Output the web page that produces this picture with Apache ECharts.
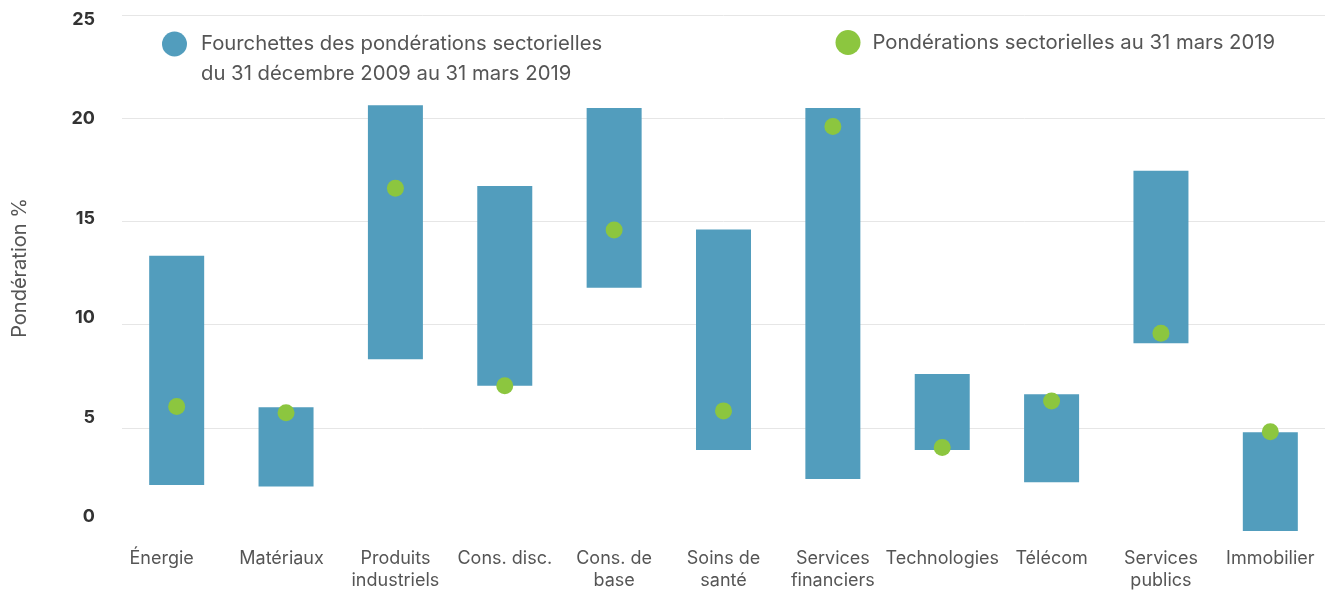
<!DOCTYPE html>
<html>
<head>
<meta charset="utf-8">
<script src="https://cdn.jsdelivr.net/npm/echarts@6/dist/echarts.min.js"></script>
<style>html,body{margin:0;padding:0;background:#fff;}#c{width:1325px;height:593px;}</style>
</head>
<body>
<div id="c"></div>
<script>
const categories = ['Énergie','Matériaux','Produits\nindustriels','Cons. disc.','Cons. de\nbase','Soins de\nsanté','Services\nfinanciers','Technologies','Télécom','Services\npublics','Immobilier'];
const rangeLow  = [2.23, 2.15, 8.32, 7.04, 11.79, 3.93, 2.52, 3.93, 2.36, 9.10, 0.0];
const rangeHigh = [13.33, 6.00, 20.63, 16.72, 20.49, 14.61, 20.49, 7.61, 6.63, 17.45, 4.78];
const current   = [6.03, 5.73, 16.61, 7.04, 14.58, 5.82, 19.60, 4.04, 6.30, 9.58, 4.81];
const yTicks = [0, 5, 10, 15, 20, 25];
const rangeName = 'Fourchettes des pondérations sectorielles\ndu 31 décembre 2009 au 31 mars 2019';
const currentName = 'Pondérations sectorielles au 31 mars 2019';

const FONT = 'Inter';
// small left shifts of the first two category labels, as in the reference
const labelPadRight = { 0: 30, 1: 9 };
const chart = echarts.init(document.getElementById('c'));
chart.setOption({
  animation: false,
  textStyle: { fontFamily: FONT },
  grid: { left: 122, right: 0, top: 15, bottom: 62 },
  legend: [
    { data: [rangeName], left: 162, top: -1, padding: 0, icon: 'circle', itemWidth: 25, itemHeight: 25,
      formatter: n => '\n' + n,
      textStyle: { fontFamily: FONT, fontSize: 20.3, color: '#555', lineHeight: 30, padding: [0, 0, 0, 9] } },
    { data: [currentName], left: 835.5, top: 30, padding: 0, icon: 'circle', itemWidth: 25, itemHeight: 25,
      textStyle: { fontFamily: FONT, fontSize: 20.3, color: '#555', padding: [0, 0, 0, 7] } }
  ],
  xAxis: {
    type: 'category',
    data: categories.map((c, i) => labelPadRight[i] ? { value: c, textStyle: { padding: [0, labelPadRight[i], 0, 0] } } : c),
    axisLine: { show: false }, axisTick: { show: false },
    axisLabel: { interval: 0, color: '#555', fontSize: 18, lineHeight: 22, margin: 17, fontFamily: FONT }
  },
  yAxis: [
    { type: 'value', min: 0, max: 25, interval: 5, position: 'left',
      name: 'Pondération %', nameLocation: 'middle', nameGap: 92,
      nameTextStyle: { color: '#555', fontSize: 20, fontFamily: FONT, padding: [0, 0, 0, 10] },
      axisLine: { show: false }, axisTick: { show: false }, axisLabel: { show: false },
      splitLine: { showMinLine: false, lineStyle: { color: '#e6e6e6', width: 1 } } },
    { type: 'value', min: -0.73, max: 25.23, position: 'left',
      axisLine: { show: false }, axisTick: { show: false }, splitLine: { show: false },
      axisLabel: { customValues: yTicks, color: '#333', fontSize: 18, fontWeight: 'bold', margin: 27, fontFamily: FONT } }
  ],
  series: [
    { type: 'bar', stack: 'r', data: rangeLow, barWidth: 55, silent: true,
      itemStyle: { color: 'transparent' } },
    { type: 'bar', stack: 'r', name: rangeName, data: rangeHigh.map((h, i) => h - rangeLow[i]),
      barWidth: 55, itemStyle: { color: '#529dbd' } },
    { type: 'scatter', name: currentName, data: current, symbolSize: 17, z: 5,
      itemStyle: { color: '#8cc63f', opacity: 1 } }
  ]
});
</script>
</body>
</html>
